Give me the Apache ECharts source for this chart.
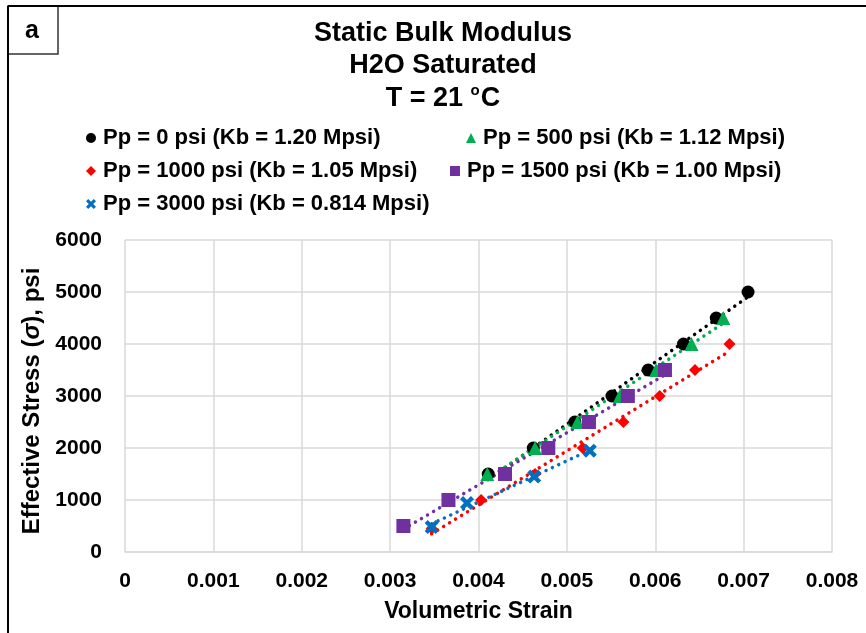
<!DOCTYPE html>
<html>
<head>
<meta charset="utf-8">
<script src="https://cdn.jsdelivr.net/npm/echarts@6/dist/echarts.min.js"></script>
<style>
html,body{margin:0;padding:0;background:#fff;}
#c{width:866px;height:633px;}
</style>
</head>
<body>
<div id="c"></div>
<script>
// ---- data ----
const titleLines = ['Static Bulk Modulus', 'H2O Saturated'];
const seriesNames = [
  'Pp = 0 psi (Kb = 1.20 Mpsi)',
  'Pp = 500 psi (Kb = 1.12 Mpsi)',
  'Pp = 1000 psi (Kb = 1.05 Mpsi)',
  'Pp = 1500 psi (Kb = 1.00 Mpsi)',
  'Pp = 3000 psi (Kb = 0.814 Mpsi)'
];
const strain0 = [0.00411, 0.00462, 0.00509, 0.00551, 0.00592, 0.00632, 0.00669, 0.00705];
const stress0 = [1500, 2000, 2500, 3000, 3500, 4000, 4500, 5000];
const strain500 = [0.00410, 0.00464, 0.00512, 0.00560, 0.00601, 0.00641, 0.00677];
const stress500 = [1500, 2000, 2500, 3000, 3500, 4000, 4500];
const strain1000 = [0.00347, 0.00403, 0.00464, 0.00518, 0.00564, 0.00605, 0.00645, 0.00684];
const stress1000 = [450, 1000, 1500, 2000, 2500, 3000, 3500, 4000];
const strain1500 = [0.00315, 0.00366, 0.00430, 0.00479, 0.00525, 0.00569, 0.00611];
const stress1500 = [500, 1000, 1500, 2000, 2500, 3000, 3500];
const strain3000 = [0.00347, 0.00387, 0.00463, 0.00526];
const stress3000 = [480, 940, 1450, 1948];
const xTicks = ['0', '0.001', '0.002', '0.003', '0.004', '0.005', '0.006', '0.007', '0.008'];
const yTicks = ['0', '1000', '2000', '3000', '4000', '5000', '6000'];

// ---- build ----
const xs = [strain0, strain500, strain1000, strain1500, strain3000];
const ys = [stress0, stress500, stress1000, stress1500, stress3000];
const colors = ['#000000', '#00b050', '#ff0000', '#7030a0', '#0070c0'];
const xPath = 'path://M0,2.2 L2.2,0 L5,2.8 L7.8,0 L10,2.2 L7.2,5 L10,7.8 L7.8,10 L5,7.2 L2.2,10 L0,7.8 L2.8,5 Z';
const symbols = ['circle', 'triangle', 'diamond', 'rect', xPath];
const symbolSizes = [13, 14, 12, 14, 14];

function fit(x, y) {
  const n = x.length;
  let sx = 0, sy = 0, sxx = 0, sxy = 0;
  for (let i = 0; i < n; i++) { sx += x[i]; sy += y[i]; sxx += x[i]*x[i]; sxy += x[i]*y[i]; }
  const b = (n*sxy - sx*sy) / (n*sxx - sx*sx);
  const a = (sy - b*sx) / n;
  const x0 = Math.min(...x), x1 = Math.max(...x);
  return [[x0, a + b*x0], [x1, a + b*x1]];
}

const series = [];
for (let i = 0; i < 5; i++) {
  series.push({
    type: 'line', name: 'trend' + i, data: fit(xs[i], ys[i]), symbol: 'none',
    lineStyle: { color: colors[i], width: 3.5, type: [0.01, 7], cap: 'round' },
    z: 1, silent: true
  });
}
for (let i = 0; i < 5; i++) {
  series.push({
    type: 'scatter', name: seriesNames[i],
    data: xs[i].map((v, k) => [v, ys[i][k]]),
    symbol: symbols[i], symbolSize: symbolSizes[i],
    itemStyle: { color: colors[i], opacity: 1 },
    z: 3 + i
  });
}

const tf = 'Liberation Sans, Arial, sans-serif';
const legendFont = { fontFamily: tf, fontWeight: 'bold', fontSize: 22, color: '#000' };
const legendPos = [[86, 127], [466, 127], [86, 160], [450, 160], [86, 193]];
const legends = legendPos.map((p, i) => ({
  data: [seriesNames[i]], left: p[0], top: p[1], itemWidth: 10, itemHeight: 10, itemGap: 0,
  padding: 0, textStyle: Object.assign({ padding: [0, 0, 0, 2] }, legendFont), selectedMode: false
}));

const titleStyle = { fontFamily: tf, fontWeight: 'bold', fontSize: 27, fill: '#000', textAlign: 'center', textVerticalAlign: 'middle' };
const chart = echarts.init(document.getElementById('c'), null, { renderer: 'canvas' });
chart.setOption({
  animation: false,
  backgroundColor: '#ffffff',
  legend: legends,
  grid: { left: 125, top: 240, right: 34, bottom: 81, containLabel: false },
  xAxis: {
    type: 'value', min: 0, max: 0.008, interval: 0.001,
    name: 'Volumetric Strain', nameLocation: 'middle', nameGap: 48,
    nameTextStyle: { fontFamily: tf, fontWeight: 'bold', fontSize: 23, color: '#000' },
    axisLine: { show: true, lineStyle: { color: '#d9d9d9', width: 1.5 } },
    axisTick: { show: false },
    axisLabel: { margin: 19, fontFamily: tf, fontWeight: 'bold', fontSize: 21, color: '#000',
      formatter: (v) => xTicks[Math.round(v / 0.001)] },
    splitLine: { show: true, lineStyle: { color: '#d9d9d9', width: 1.5 } }
  },
  yAxis: {
    type: 'value', min: 0, max: 6000, interval: 1000,
    name: '{n|Effective Stress (}{i|σ}{n|), psi}', nameLocation: 'middle', nameGap: 70, nameRotate: 90,
    nameTextStyle: { padding: [0, 10, 0, 0], rich: {
      n: { fontFamily: tf, fontWeight: 'bold', fontSize: 24, color: '#000' },
      i: { fontFamily: tf, fontWeight: 'bold', fontStyle: 'italic', fontSize: 24, color: '#000' }
    } },
    axisLine: { show: false },
    axisTick: { show: false },
    axisLabel: { margin: 23, fontFamily: tf, fontWeight: 'bold', fontSize: 21, color: '#000',
      formatter: (v) => yTicks[Math.round(v / 1000)] },
    splitLine: { show: true, lineStyle: { color: '#d9d9d9', width: 1.5 } }
  },
  graphic: [
    { type: 'text', x: 443, y: 34, style: Object.assign({ text: titleLines[0] }, titleStyle), z: 101 },
    { type: 'text', x: 443, y: 66, style: Object.assign({ text: titleLines[1] }, titleStyle), z: 101 },
    { type: 'text', x: 443, y: 99, style: {
        text: '{n|T = 21 }{s|o}{n|C}', textAlign: 'center', textVerticalAlign: 'middle',
        rich: {
          n: { fontFamily: tf, fontWeight: 'bold', fontSize: 27, fill: '#000', lineHeight: 31 },
          s: { fontFamily: tf, fontWeight: 'bold', fontSize: 15, fill: '#000', lineHeight: 31, verticalAlign: 'top', padding: [0, 1, 10, 0] }
        } }, z: 101 },
    { type: 'line', shape: { x1: 8, y1: 6, x2: 866, y2: 6 }, style: { stroke: '#000', lineWidth: 2 }, z: 100 },
    { type: 'line', shape: { x1: 8, y1: 6, x2: 8, y2: 633 }, style: { stroke: '#000', lineWidth: 2 }, z: 100 },
    { type: 'rect', shape: { x: 8, y: 6, width: 50, height: 48 }, style: { fill: '#fff', stroke: '#333', lineWidth: 1.5 }, z: 99 },
    { type: 'text', x: 32, y: 31, style: { text: 'a', fontFamily: tf, fontWeight: 'bold', fontSize: 25, fill: '#000', textAlign: 'center', textVerticalAlign: 'middle' }, z: 101 }
  ],
  series: series
});
</script>
</body>
</html>
